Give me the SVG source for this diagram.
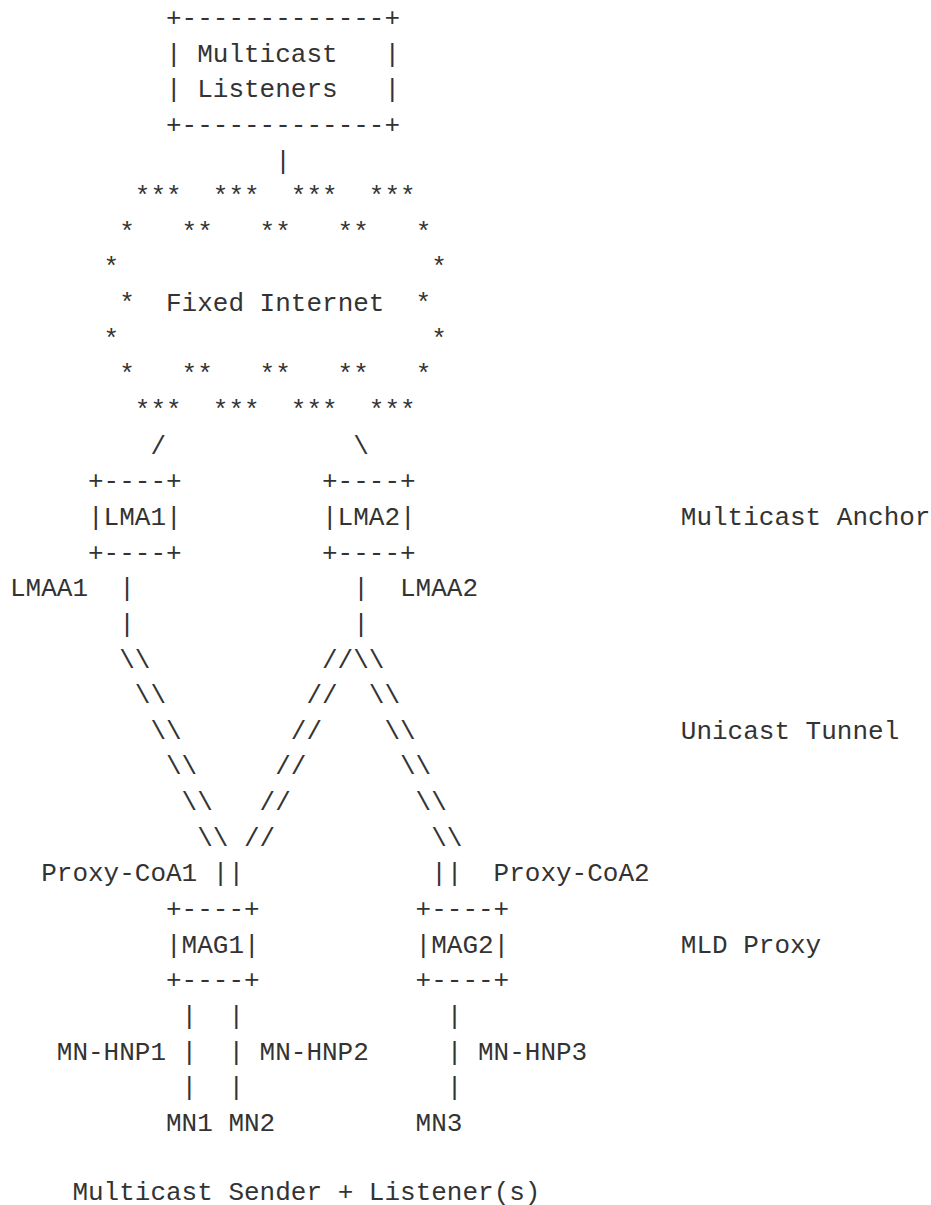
<svg xmlns="http://www.w3.org/2000/svg" width="931" height="1205" viewBox="0 0 931 1205" xml:space="preserve">
<style>
text { font-family: "Liberation Mono", "DejaVu Sans Mono", monospace; font-size: 26px; fill: #333333; white-space: pre; }
</style>
<rect x="0" y="0" width="931" height="1205" fill="#ffffff"/>
<g id="multicast-listeners">
<text x="166" y="26">+-------------+</text>
<text x="166" y="61.64">| Multicast   |</text>
<text x="166" y="97.28">| Listeners   |</text>
<text x="166" y="132.92">+-------------+</text>
</g>
<g id="fixed-internet">
<text x="134.8" y="204.2">***  ***  ***  ***</text>
<text x="119.2" y="239.84">*   **   **   **   *</text>
<text x="103.6" y="275.48">*</text><text x="431.2" y="275.48">*</text>
<text x="119.2" y="311.12">*</text><text x="166" y="311.12">Fixed Internet</text><text x="415.6" y="311.12">*</text>
<text x="103.6" y="346.76">*</text><text x="431.2" y="346.76">*</text>
<text x="119.2" y="382.4">*   **   **   **   *</text>
<text x="134.8" y="418.04">***  ***  ***  ***</text>
</g>
<g id="lma1">
<text x="88" y="489.32">+----+</text>
<text x="88" y="524.96">|LMA1|</text>
<text x="88" y="560.6">+----+</text>
<text x="10" y="596.24">LMAA1</text>
</g>
<g id="lma2">
<text x="322" y="489.32">+----+</text>
<text x="322" y="524.96">|LMA2|</text>
<text x="322" y="560.6">+----+</text>
<text x="400" y="596.24">LMAA2</text>
</g>
<g id="mag1">
<text x="41.2" y="881.36">Proxy-CoA1</text>
<text x="166" y="917">+----+</text>
<text x="166" y="952.64">|MAG1|</text>
<text x="166" y="988.28">+----+</text>
</g>
<g id="mag2">
<text x="493.6" y="881.36">Proxy-CoA2</text>
<text x="415.6" y="917">+----+</text>
<text x="415.6" y="952.64">|MAG2|</text>
<text x="415.6" y="988.28">+----+</text>
</g>
<g id="mn1">
<text x="56.8" y="1059.56">MN-HNP1</text>
<text x="166" y="1130.84">MN1</text>
</g>
<g id="mn2">
<text x="259.6" y="1059.56">MN-HNP2</text>
<text x="228.4" y="1130.84">MN2</text>
</g>
<g id="mn3">
<text x="478" y="1059.56">MN-HNP3</text>
<text x="415.6" y="1130.84">MN3</text>
</g>
<g id="legend">
<text x="680.8" y="524.96">Multicast Anchor</text>
<text x="680.8" y="738.8">Unicast Tunnel</text>
<text x="680.8" y="952.64">MLD Proxy</text>
<text x="72.4" y="1199.8">Multicast Sender + Listener(s)</text>
</g>
<g id="connectors">
<text x="275.2" y="168.56">|</text>
<text x="150.4" y="453.68">/</text><text x="353.2" y="453.68">\</text>
<text x="119.2" y="596.24">|</text><text x="353.2" y="596.24">|</text>
<text x="119.2" y="631.88">|</text><text x="353.2" y="631.88">|</text>
<text x="119.2" y="667.52">\\</text><text x="322" y="667.52">//\\</text>
<text x="134.8" y="703.16">\\</text><text x="306.4" y="703.16">//</text><text x="368.8" y="703.16">\\</text>
<text x="150.4" y="738.8">\\</text><text x="290.8" y="738.8">//</text><text x="384.4" y="738.8">\\</text>
<text x="166" y="774.44">\\</text><text x="275.2" y="774.44">//</text><text x="400" y="774.44">\\</text>
<text x="181.6" y="810.08">\\</text><text x="259.6" y="810.08">//</text><text x="415.6" y="810.08">\\</text>
<text x="197.2" y="845.72">\\</text><text x="244" y="845.72">//</text><text x="431.2" y="845.72">\\</text>
<text x="212.8" y="881.36">||</text><text x="431.2" y="881.36">||</text>
<text x="181.6" y="1023.92">|</text><text x="228.4" y="1023.92">|</text><text x="446.8" y="1023.92">|</text>
<text x="181.6" y="1059.56">|</text><text x="228.4" y="1059.56">|</text><text x="446.8" y="1059.56">|</text>
<text x="181.6" y="1095.2">|</text><text x="228.4" y="1095.2">|</text><text x="446.8" y="1095.2">|</text>
</g>
</svg>
